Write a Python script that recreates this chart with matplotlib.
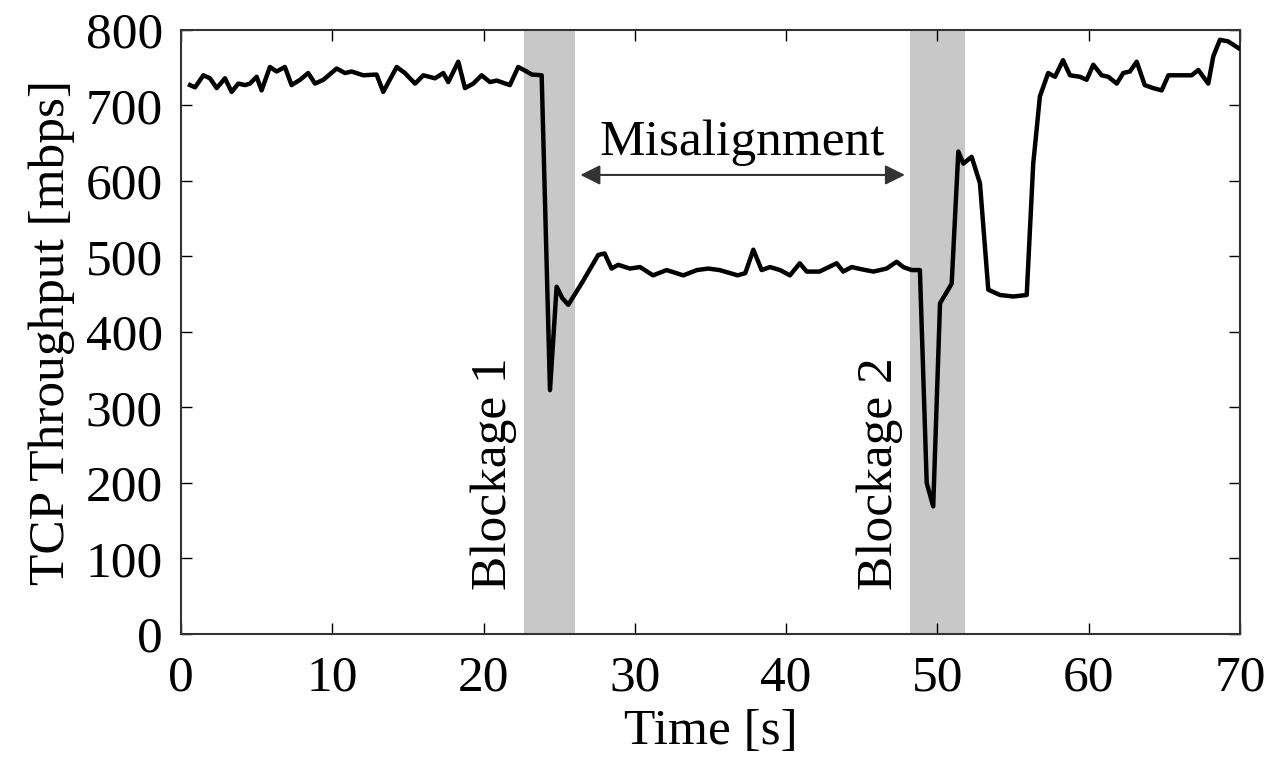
import matplotlib
matplotlib.use("Agg")
import matplotlib.pyplot as plt

time_s = [0.6, 0.93, 1.48, 1.92, 2.36, 2.91, 3.35, 3.79, 4.23, 4.56, 5.0, 5.33, 5.88, 6.32,
          6.87, 7.31, 7.87, 8.41, 8.86, 9.41, 10.29, 10.84, 11.28, 12.05, 12.93, 13.37,
          14.26, 14.8, 15.47, 16.02, 16.79, 17.34, 17.67, 18.33, 18.77, 19.32, 19.87, 20.42,
          20.87, 21.74, 22.29, 22.85, 23.18, 23.84, 24.39, 24.83, 25.2, 25.6, 26.5, 27.58,
          28.0, 28.46, 28.9, 29.67, 30.34, 31.2, 32.1, 33.2, 34.1, 34.85, 35.6, 36.8, 37.3,
          37.83, 38.38, 38.93, 39.6, 40.25, 40.9, 41.36, 42.2, 43.34, 43.77, 44.33, 45.0,
          45.76, 46.64, 47.3, 47.74, 48.3, 48.84, 49.29, 49.72, 50.17, 50.94, 51.38, 51.71,
          52.26, 52.81, 53.36, 54.13, 55.0, 55.9, 56.33, 56.55, 56.77, 57.32, 57.77, 58.3,
          58.76, 59.42, 59.86, 60.3, 60.85, 61.29, 61.85, 62.28, 62.72, 63.17, 63.7, 64.26,
          64.82, 65.26, 65.8, 66.8, 67.24, 67.9, 68.23, 68.67, 69.2, 69.9]
throughput = [727, 724, 740, 736, 723, 736, 718, 729, 727, 729, 738, 720, 751, 745,
              751, 727, 734, 743, 729, 734, 749, 743, 745, 740, 741, 718,
              751, 743, 729, 740, 736, 743, 731, 758, 723, 729, 740, 731,
              733, 727, 751, 745, 741, 740, 323, 460, 445, 436, 465, 502,
              504, 484, 489, 484, 486, 475, 482, 475, 482, 484, 482, 475, 478,
              509, 482, 486, 482, 475, 491, 480, 480, 491, 480, 486, 483,
              480, 484, 493, 486, 482, 482, 200, 169, 438, 464, 639, 623,
              632, 597, 456, 449, 447, 449, 623, 667, 712, 743, 738, 760,
              740, 738, 734, 754, 740, 738, 729, 743, 745, 758, 727, 723,
              720, 740, 740, 740, 747, 729, 765, 787, 785, 776]

blockages = [(22.65, 26.05), (48.2, 51.8)]
blockage_labels = ["Blockage 1", "Blockage 2"]
blockage_label_x = [20.7, 46.2]
x_ticks = [0, 10, 20, 30, 40, 50, 60, 70]
y_ticks = [0, 100, 200, 300, 400, 500, 600, 700, 800]

plt.rcParams['font.family'] = ['Liberation Serif', 'DejaVu Serif']
FS = 37

fig = plt.figure(figsize=(12.78, 7.61), dpi=100)
ax = fig.add_axes([0.1416, 0.1669, 0.8287, 0.7937])

for (a, b) in blockages:
    ax.axvspan(a, b, color='#c8c8c8', lw=0, zorder=1)

ax.plot(time_s, throughput, color='black', lw=3.2, zorder=3)

for lab, xl in zip(blockage_labels, blockage_label_x):
    ax.text(xl, 212, lab, rotation=90, ha='center', va='center', fontsize=FS, zorder=4)

ax.annotate('', xy=(26.4, 608), xytext=(47.85, 608),
            arrowprops=dict(arrowstyle='<|-|>', color='#333333', lw=1.5,
                            mutation_scale=30, shrinkA=0, shrinkB=0))
ax.text(37.1, 620, 'Misalignment', ha='center', va='bottom', fontsize=FS)

ax.set_xlim(0, 70)
ax.set_ylim(0, 800)
ax.set_xticks(x_ticks)
ax.set_yticks(y_ticks)
ax.tick_params(direction='in', top=True, right=True, length=8, width=1,
               labelsize=FS, colors='black')
ax.tick_params(axis='x', pad=15)
ax.tick_params(axis='y', pad=13)
for s in ax.spines.values():
    s.set_linewidth(1.5)
    s.set_color('#333333')
ax.set_xlabel('Time [s]', fontsize=FS, labelpad=5)
ax.set_ylabel('TCP Throughput [mbps]', fontsize=FS, labelpad=8)

fig.savefig('out.png', dpi=100)
